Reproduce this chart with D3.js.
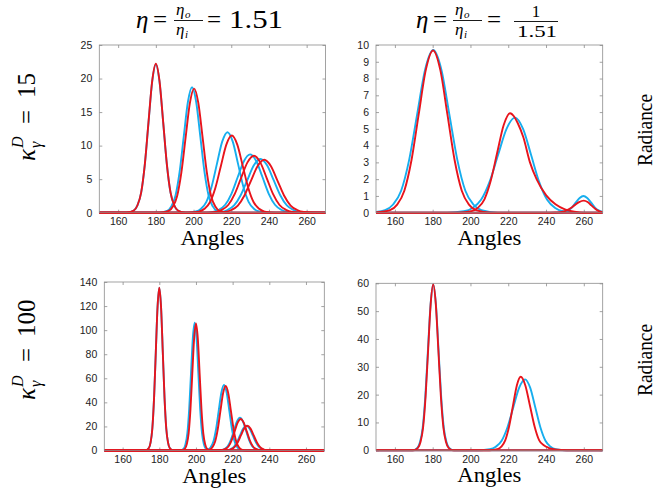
<!DOCTYPE html>
<html><head><meta charset="utf-8">
<script src="https://cdn.jsdelivr.net/npm/d3@7"></script>
<style>body{margin:0;background:#fff}</style>
</head><body><svg id="c" width="665" height="492"></svg>
<script>
// ---------- data ----------
const xTicks = [160,180,200,220,240,260];
const yTicksTL = [0,5,10,15,20,25];
const yTicksTR = [0,1,2,3,4,5,6,7,8,9,10];
const yTicksBL = [0,20,40,60,80,100,120,140];
const yTicksBR = [0,10,20,30,40,50,60];
const etaValues = ["1.51","1/1.51"];
const kappaValues = ["15","100"];
const xLabel = "Angles";
const yLabel = "Radiance";

// top-left: kappa=15, eta=1.51  (each curve = [angle, radiance] pairs)
const tlBlue = [
 [[150,0],[164.4,0],[168.3,0.33],[170.25,1.1],[172.2,2.99],[174.15,7.18],[176.1,13.4],[178.05,19.5],[180,22.1],[181.95,19.5],[183.9,13.4],[185.85,7.18],[187.8,2.99],[189.75,1.1],[191.7,0.33],[195.6,0],[270,0]],
 [[150,0],[181.6,0],[186,0.28],[188.2,0.94],[190.4,2.53],[192.6,6.07],[194.8,11.34],[197,16.5],[199.2,18.7],[201.4,16.5],[203.6,11.34],[205.8,6.07],[208,2.53],[210.2,0.94],[212.4,0.28],[216.8,0],[270,0]],
 [[150,0],[195.6,0],[201.2,0.18],[204,0.6],[206.8,1.62],[209.6,3.9],[212.4,7.28],[215.2,10.59],[218,12],[220.8,10.59],[223.6,7.28],[226.4,3.9],[229.2,1.62],[232,0.6],[234.8,0.18],[240.4,0],[270,0]],
 [[150,0],[203.6,0],[210.2,0.13],[213.5,0.44],[216.8,1.18],[220.1,2.82],[223.4,5.28],[226.7,7.68],[230,8.7],[233.3,7.68],[236.6,5.28],[239.9,2.82],[243.2,1.18],[246.5,0.44],[249.8,0.13],[256.4,0],[270,0]],
 [[150,0],[207.5,0],[214.5,0.12],[218,0.4],[221.5,1.08],[225,2.6],[228.5,4.85],[232,7.06],[235.5,8],[239,7.06],[242.5,4.85],[246,2.6],[249.5,1.08],[253,0.4],[256.5,0.12],[263.5,0],[270,0]]
];
const tlRed = [
 [[150,0],[164.4,0],[168.3,0.33],[170.25,1.11],[172.2,3.0],[174.15,7.21],[176.1,13.5],[178.05,19.6],[180,22.2],[181.95,19.6],[183.9,13.5],[185.85,7.21],[187.8,3.0],[189.75,1.11],[191.7,0.33],[195.6,0],[270,0]],
 [[150,0],[182.3,0],[186.8,0.28],[189.05,0.93],[191.3,2.5],[193.55,6.01],[195.8,11.22],[198.05,16.33],[200.3,18.5],[202.55,16.33],[204.8,11.22],[207.05,6.01],[209.3,2.5],[211.55,0.93],[213.8,0.28],[218.3,0],[270,0]],
 [[150,0],[197.1,0],[202.9,0.17],[205.8,0.58],[208.7,1.56],[211.6,3.73],[214.5,6.97],[217.4,10.15],[220.3,11.5],[223.2,10.15],[226.1,6.97],[229,3.73],[231.9,1.56],[234.8,0.58],[237.7,0.17],[243.5,0],[270,0]],
 [[150,0],[204.8,0],[211.6,0.13],[215,0.43],[218.4,1.15],[221.8,2.76],[225.2,5.16],[228.6,7.5],[232,8.5],[235.4,7.5],[238.8,5.16],[242.2,2.76],[245.6,1.15],[249,0.43],[252.4,0.13],[259.2,0],[270,0]],
 [[150,0],[209.5,0],[216.5,0.12],[220,0.4],[223.5,1.07],[227,2.57],[230.5,4.79],[234,6.97],[237.5,7.9],[241,6.97],[244.5,4.79],[248,2.57],[251.5,1.07],[255,0.4],[258.5,0.12],[265.5,0],[270,0]]
];

// top-right: kappa=15, eta=1/1.51
const trBlue = [
 [[150,0.05],[154.8,0.15],[159.05,0.49],[163.3,1.31],[167.55,3.15],[171.8,5.88],[176.05,8.56],[180.3,9.7],[184.55,8.56],[188.8,5.88],[193.05,3.15],[197.3,1.31],[201.55,0.49],[205.8,0.15],[214.3,0],[270,0]],
 [[150,0],[187.6,0],[196.6,0.085],[201.1,0.28],[205.6,0.77],[210.1,1.84],[214.6,3.44],[219.1,5.0],[223.6,5.67],[227.85,5.0],[232.1,3.44],[236.35,1.84],[240.6,0.77],[244.85,0.28],[249.1,0.085],[257.6,0],[270,0]],
 [[150,0],[243.8,0],[247.8,0.015],[249.8,0.05],[251.8,0.135],[253.8,0.32],[255.8,0.61],[257.8,0.88],[259.8,1.0],[261.8,0.88],[263.8,0.61],[265.8,0.32],[267.8,0.135],[270,0.045]]
];
const trRed = [
 [[150,0.01],[157.4,0.15],[161.2,0.48],[165,1.31],[168.8,3.14],[172.6,5.86],[176.4,8.53],[180.2,9.67],[184,8.53],[187.8,5.86],[191.6,3.14],[195.4,1.31],[199.2,0.48],[203,0.15],[210.6,0],[270,0]],
 [[150,0],[193.8,0],[200.6,0.09],[204,0.3],[207.4,0.8],[210.8,1.93],[214.2,3.6],[217.6,5.23],[221,5.93],[223,5.75],[225,5.35],[228,4.5],[231.5,3.0],[235,2.0],[240,1.05],[245,0.5],[250,0.2],[255,0.06],[260,0],[270,0]],
 [[150,0],[240,0],[245,0.011],[247.5,0.036],[250,0.097],[252.5,0.234],[255,0.437],[257.5,0.635],[260,0.72],[262,0.635],[264,0.437],[266,0.234],[268,0.097],[270,0.036]]
];

// bottom-left: kappa=100, eta=1.51
const blBlue = [
 [[150,0],[172.4,0],[174.3,2.03],[175.25,6.77],[176.2,18.3],[177.15,43.9],[178.1,82],[179.05,119.2],[180,135],[180.95,119.2],[181.9,82],[182.85,43.9],[183.8,18.3],[184.75,6.77],[185.7,2.03],[187.6,0],[270,0]],
 [[150,0],[191.3,0],[193.3,1.6],[194.3,5.3],[195.3,14.4],[196.3,34.5],[197.3,64.4],[198.3,93.7],[199.3,106.2],[200.3,93.7],[201.3,64.4],[202.3,34.5],[203.3,14.4],[204.3,5.3],[205.3,1.6],[207.3,0],[270,0]],
 [[150,0],[203.7,0],[206.6,0.82],[208.05,2.72],[209.5,7.36],[210.95,17.66],[212.4,33],[213.85,48],[215.3,54.4],[216.75,48],[218.2,33],[219.65,17.66],[221.1,7.36],[222.55,2.72],[224,0.82],[226.9,0],[270,0]],
 [[150,0],[210.8,0],[214.1,0.41],[215.75,1.37],[217.4,3.69],[219.05,8.86],[220.7,16.56],[222.35,24.1],[224,27.3],[225.65,24.1],[227.3,16.56],[228.95,8.86],[230.6,3.69],[232.25,1.37],[233.9,0.41],[237.2,0],[270,0]],
 [[150,0],[213.5,0],[217,0.31],[218.75,1.03],[220.5,2.79],[222.25,6.69],[224,12.49],[225.75,18.18],[227.5,20.6],[229.25,18.18],[231,12.49],[232.75,6.69],[234.5,2.79],[236.25,1.03],[238,0.31],[241.5,0],[270,0]]
];
const blRed = [
 [[150,0],[172.4,0],[174.3,2.03],[175.25,6.77],[176.2,18.31],[177.15,43.93],[178.1,82.06],[179.05,119.4],[180,135.3],[180.95,119.4],[181.9,82.06],[182.85,43.93],[183.8,18.31],[184.75,6.77],[185.7,2.03],[187.6,0],[270,0]],
 [[150,0],[192,0],[194,1.6],[195,5.3],[196,14.3],[197,34.3],[198,64],[199,93.2],[200,105.6],[201,93.2],[202,64],[203,34.3],[204,14.3],[205,5.3],[206,1.6],[208,0],[270,0]],
 [[150,0],[204.6,0],[207.5,0.8],[208.95,2.68],[210.4,7.25],[211.85,17.4],[213.3,32.5],[214.75,47.3],[216.2,53.6],[217.65,47.3],[219.1,32.5],[220.55,17.4],[222,7.25],[223.45,2.68],[224.9,0.8],[227.8,0],[270,0]],
 [[150,0],[211.2,0],[214.5,0.39],[216.15,1.31],[217.8,3.54],[219.45,8.5],[221.1,15.9],[222.75,23.1],[224.4,26.2],[226.05,23.1],[227.7,15.9],[229.35,8.5],[231,3.54],[232.65,1.31],[234.3,0.39],[237.6,0],[270,0]],
 [[150,0],[214,0],[217.5,0.31],[219.25,1.03],[221,2.79],[222.75,6.69],[224.5,12.49],[226.25,18.18],[228,20.6],[229.75,18.18],[231.5,12.49],[233.25,6.69],[235,2.79],[236.75,1.03],[238.5,0.31],[242,0],[270,0]]
];

// bottom-right: kappa=100, eta=1/1.51
const brBlue = [
 [[150,0],[169.1,0],[171.9,0.89],[173.3,2.98],[174.7,8.05],[176.1,19.3],[177.5,36.1],[178.9,52.5],[180.3,59.5],[181.7,52.5],[183.1,36.1],[184.5,19.3],[185.9,8.05],[187.3,2.98],[188.7,0.89],[191.5,0],[270,0]],
 [[150,0],[204.1,0],[210.3,0.38],[213.4,1.28],[216.5,3.45],[219.6,8.28],[222.7,15.47],[225.8,22.5],[228.9,25.5],[231.6,22.5],[234.3,15.47],[237,8.28],[239.7,3.45],[242.4,1.28],[245.1,0.38],[250.5,0],[270,0]]
];
const brRed = [
 [[150,0],[169.5,0],[172.2,0.89],[173.55,2.98],[174.9,8.06],[176.25,19.35],[177.6,36.15],[178.95,52.6],[180.3,59.6],[181.65,52.6],[183,36.15],[184.35,19.35],[185.7,8.06],[187.05,2.98],[188.4,0.89],[191.1,0],[270,0]],
 [[150,0],[210.2,0],[214.3,0.4],[216.35,1.32],[218.4,3.57],[220.45,8.57],[222.5,16],[224.55,23.3],[226.6,26.4],[229.05,23.3],[231.5,16],[233.95,8.57],[236.4,3.57],[238.85,1.8],[241.3,0.9],[244.6,0.35],[248.6,0.1],[253.6,0],[270,0]]
];

// ---------- drawing ----------
const BLUE = "#17aeee", RED = "#e8141c", FRAME = "#8c8c8c";
const SERIF = "Liberation Serif";
const SANS = "Liberation Sans";
const svg = d3.select("#c");

const panels = [
 {id:"tl", x0:99.3, x1:325.5, y0:45, y1:212.7, ymax:25, yt:yTicksTL, blue:tlBlue, red:tlRed},
 {id:"tr", x0:376, x1:602.7, y0:45, y1:212.7, ymax:10, yt:yTicksTR, blue:trBlue, red:trRed},
 {id:"bl", x0:104.3, x1:324.3, y0:282, y1:450.5, ymax:140, yt:yTicksBL, blue:blBlue, red:blRed},
 {id:"br", x0:376, x1:602.7, y0:283.3, y1:450.3, ymax:60, yt:yTicksBR, blue:brBlue, red:brRed}
];

panels.forEach(p => {
  const x = d3.scaleLinear().domain([150,270]).range([p.x0,p.x1]);
  const y = d3.scaleLinear().domain([0,p.ymax]).range([p.y1,p.y0]);
  const g = svg.append("g");
  g.append("clipPath").attr("id","clip-"+p.id).append("rect")
    .attr("x",p.x0).attr("y",p.y0-2).attr("width",p.x1-p.x0).attr("height",p.y1-p.y0+4);

  const styleAxis = (sel, labels) => {
    sel.select(".domain").remove();
    sel.selectAll(".tick line").attr("stroke",FRAME).attr("stroke-width",0.8);
    sel.selectAll(".tick text").attr("fill","#222").attr("font-family",SANS).attr("font-size","10.5px");
    if(!labels) sel.selectAll(".tick text").remove();
  };
  g.append("g").attr("transform",`translate(0,${p.y1})`)
    .call(d3.axisBottom(x).tickValues(xTicks).tickSizeInner(-3).tickSizeOuter(0).tickPadding(5))
    .call(s=>styleAxis(s,true));
  g.append("g").attr("transform",`translate(0,${p.y0})`)
    .call(d3.axisTop(x).tickValues(xTicks).tickSizeInner(-3).tickSizeOuter(0))
    .call(s=>styleAxis(s,false));
  g.append("g").attr("transform",`translate(${p.x0},0)`)
    .call(d3.axisLeft(y).tickValues(p.yt).tickSizeInner(-3).tickSizeOuter(0).tickPadding(7))
    .call(s=>styleAxis(s,true));
  g.append("g").attr("transform",`translate(${p.x1},0)`)
    .call(d3.axisRight(y).tickValues(p.yt).tickSizeInner(-3).tickSizeOuter(0))
    .call(s=>styleAxis(s,false));

  const line = d3.line().x(d=>x(d[0])).y(d=>y(d[1])).curve(d3.curveMonotoneX);
  const cg = g.append("g").attr("clip-path",`url(#clip-${p.id})`);
  cg.selectAll("path.b").data(p.blue).join("path").attr("class","b")
    .attr("d",line).attr("fill","none").attr("stroke",BLUE).attr("stroke-width",1.9);
  cg.selectAll("path.r").data(p.red).join("path").attr("class","r")
    .attr("d",line).attr("fill","none").attr("stroke",RED).attr("stroke-width",1.9);

  g.append("rect").attr("x",p.x0).attr("y",p.y0).attr("width",p.x1-p.x0).attr("height",p.y1-p.y0)
    .attr("fill","none").attr("stroke",FRAME).attr("stroke-width",0.8);

  g.append("text").attr("x",(p.x0+p.x1)/2).attr("y",p.y1+32).attr("text-anchor","middle")
    .attr("font-family",SERIF).attr("font-size","21px").attr("textLength",64).attr("lengthAdjust","spacingAndGlyphs")
    .text(xLabel);
});

// helper for small text pieces
function t(parent, x, y, str, size, italic, opts={}) {
  const e = parent.append("text").attr("x",x).attr("y",y).text(str)
    .attr("font-family",SERIF).attr("font-size",size+"px")
    .attr("font-style",italic?"italic":"normal");
  if(opts.anchor) e.attr("text-anchor",opts.anchor);
  if(opts.len) e.attr("textLength",opts.len).attr("lengthAdjust","spacingAndGlyphs");
  return e;
}
// column titles
function etaFrac(g, x) {
  t(g, x, 15, "η", 17, true);
  t(g, x+9, 18, "o", 11, true);
  g.append("line").attr("x1",x-2).attr("x2",x+27).attr("y1",20.5).attr("y2",20.5).attr("stroke","#000").attr("stroke-width",0.9);
  t(g, x, 35, "η", 17, true);
  t(g, x+9, 38, "i", 11, true);
}
{
  const g = svg.append("g");
  t(g, 136, 28, "η", 25, true);
  t(g, 153, 28, "=", 25, false);
  etaFrac(g, 176);
  t(g, 207, 28, "=", 25, false);
  t(g, 229, 28, etaValues[0], 25, false, {len:54});
}
{
  const g = svg.append("g");
  t(g, 416, 28, "η", 25, true);
  t(g, 433, 28, "=", 25, false);
  etaFrac(g, 455);
  t(g, 487, 28, "=", 25, false);
  const parts = etaValues[1].split("/");
  t(g, 536, 17, parts[0], 17, false, {anchor:"middle"});
  g.append("line").attr("x1",514).attr("x2",558).attr("y1",21.5).attr("y2",21.5).attr("stroke","#000").attr("stroke-width",0.9);
  t(g, 537, 37, parts[1], 17, false, {anchor:"middle", len:40});
}
// row titles
function kappaLabel(cx, cy, val, k0, eq0, n0) {
  const g = svg.append("g").attr("transform",`translate(${cx},${cy}) rotate(-90)`);
  t(g, k0, 0, "κ", 25, true);
  t(g, k0+13, -12, "D", 16, true);
  t(g, k0+13, 6, "γ", 16, true);
  t(g, eq0, 0, "=", 25, false);
  t(g, n0, 0, val, 25, false);
}
kappaLabel(35, 117, kappaValues[0], -44, -7, 19);
kappaLabel(35, 350, kappaValues[1], -50, -12, 13);
// right labels
[130, 360].forEach(cy => {
  svg.append("g").attr("transform",`translate(652,${cy}) rotate(-90)`)
    .append("text").attr("text-anchor","middle").attr("font-family",SERIF).attr("font-size","20px")
    .attr("textLength",72).attr("lengthAdjust","spacingAndGlyphs").text(yLabel);
});
</script>
</body></html>
